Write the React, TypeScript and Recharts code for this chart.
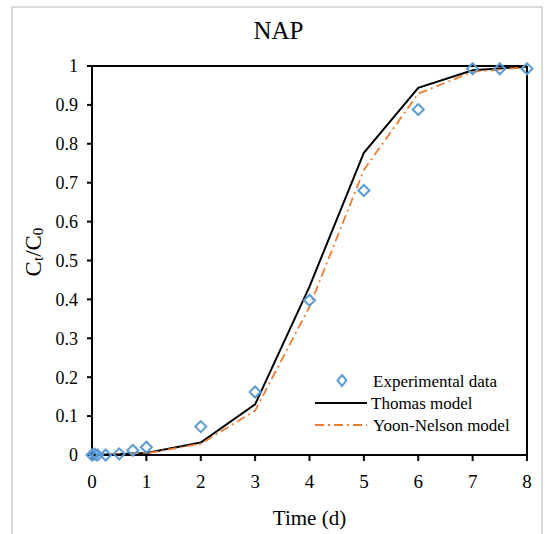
import React from "react";
import {
  ComposedChart,
  Line,
  Scatter,
  XAxis,
  YAxis,
  ReferenceLine,
} from "recharts";

// Experimental breakthrough data (time in days, Ct/C0)
const expTime = [0, 0.05, 0.1, 0.25, 0.5, 0.75, 1, 2, 3, 4, 5, 6, 7, 7.5, 8];
const expValue = [0, 0.002, 0, 0, 0.003, 0.012, 0.02, 0.073, 0.162, 0.398, 0.68, 0.888, 0.993, 0.993, 0.993];

// Model curves
const modelTime = [0, 1, 2, 3, 4, 5, 6, 7, 8];
const thomasValue = [0, 0.005, 0.032, 0.13, 0.433, 0.777, 0.944, 0.989, 0.998];
const yoonValue = [0, 0.004, 0.029, 0.114, 0.381, 0.733, 0.929, 0.985, 0.997];

const xTicks = [0, 1, 2, 3, 4, 5, 6, 7, 8];
const yTicks = [0, 0.1, 0.2, 0.3, 0.4, 0.5, 0.6, 0.7, 0.8, 0.9, 1];

const expData = expTime.map((t, i) => ({ t, v: expValue[i] }));
const thomasData = modelTime.map((t, i) => ({ t, v: thomasValue[i] }));
const yoonData = modelTime.map((t, i) => ({ t, v: yoonValue[i] }));

const FONT = "'Liberation Serif', 'Times New Roman', serif";
const BLUE = "#5b9bd5";
const ORANGE = "#ed7d31";

// open diamond marker
const Diamond = (props: any) => {
  const { cx, cy } = props;
  const r = 5.5;
  return (
    <path
      d={`M${cx},${cy - r}L${cx + r},${cy}L${cx},${cy + r}L${cx - r},${cy}Z`}
      fill="none"
      stroke={BLUE}
      strokeWidth={2}
    />
  );
};

const YLabel = () => (
  <text
    x={33}
    y={252}
    transform="rotate(-90, 33, 252)"
    textAnchor="middle"
    dominantBaseline="central"
    fontFamily={FONT}
    fontSize={23}
    fill="#000"
  >
    C<tspan fontSize={15} dy={5}>t</tspan>
    <tspan dy={-5}>/C</tspan>
    <tspan fontSize={15} dy={5}>0</tspan>
  </text>
);

const App: React.FC = () => {
  return (
    <div style={{ position: "absolute", left: 0, top: 0, width: 549, height: 534, background: "#fff", overflow: "hidden" }}>
      {/* outer frame */}
      <div
        style={{
          position: "absolute",
          left: 11,
          top: 6,
          width: 528,
          height: 540,
          border: "2px solid #d9d9d9",
        }}
      />
      <div style={{ position: "absolute", left: 0, top: 0 }}>
        <ComposedChart
          width={549}
          height={534}
          margin={{ top: 66, right: 22, bottom: 39, left: 32 }}
        >
          <XAxis
            dataKey="t"
            type="number"
            domain={[0, 8]}
            ticks={xTicks}
            stroke="#000"
            strokeWidth={2}
            tickSize={6}
            tickMargin={14}
            height={40}
            tick={{ fill: "#000", fontSize: 19, fontFamily: FONT }}
            label={{
              value: "Time (d)",
              position: "insideBottom",
              offset: -30,
              fill: "#000",
              fontSize: 21,
              fontFamily: FONT,
            }}
          />
          <YAxis
            dataKey="v"
            type="number"
            domain={[0, 1]}
            ticks={yTicks}
            stroke="#000"
            strokeWidth={2}
            tickSize={5}
            tickMargin={9}
            width={60}
            tick={{ fill: "#000", fontSize: 18, fontFamily: FONT }}
            label={<YLabel />}
          />
          <ReferenceLine y={1} stroke="#000" strokeWidth={2} />
          <ReferenceLine x={8} stroke="#000" strokeWidth={2} />
          <Line
            data={thomasData}
            dataKey="v"
            type="linear"
            stroke="#000"
            strokeWidth={2}
            dot={false}
            isAnimationActive={false}
          />
          <Line
            data={yoonData}
            dataKey="v"
            type="linear"
            stroke={ORANGE}
            strokeWidth={1.8}
            strokeDasharray="9 4 2 4"
            dot={false}
            isAnimationActive={false}
          />
          <Scatter
            data={expData}
            dataKey="v"
            shape={<Diamond />}
            isAnimationActive={false}
          />
        </ComposedChart>
      </div>
      <div
        style={{
          position: "absolute",
          left: 0,
          top: 18,
          width: 549,
          textAlign: "center",
          fontFamily: FONT,
          fontSize: 25,
          lineHeight: "26px",
          paddingLeft: 8,
          boxSizing: "border-box",
        }}
      >
        NAP
      </div>
      {/* legend */}
      <svg style={{ position: "absolute", left: 300, top: 366 }} width={240} height={70}>
        <path d="M42,9 L46.5,14.5 L42,20 L37.5,14.5 Z" fill="none" stroke={BLUE} strokeWidth={2} />
        <text x={73} y={15} dominantBaseline="central" fontFamily={FONT} fontSize={17}>Experimental data</text>
        <line x1={15} y1={37} x2={67} y2={37} stroke="#000" strokeWidth={2} />
        <text x={71} y={37} dominantBaseline="central" fontFamily={FONT} fontSize={17}>Thomas model</text>
        <line x1={15} y1={59} x2={67} y2={59} stroke={ORANGE} strokeWidth={1.8} strokeDasharray="9 4 2 4" />
        <text x={73} y={59} dominantBaseline="central" fontFamily={FONT} fontSize={17}>Yoon-Nelson model</text>
      </svg>
    </div>
  );
};

export default App;
